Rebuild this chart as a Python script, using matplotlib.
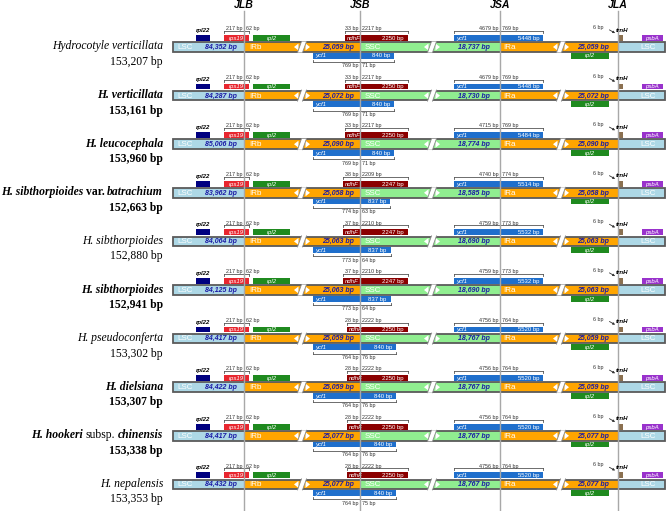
import matplotlib
matplotlib.use("Agg")
import matplotlib.pyplot as plt
from matplotlib.patches import Rectangle, Polygon

# ---------------- data ----------------
name_parts = [
    [("Hydrocotyle verticillata", "i")],
    [("H. verticillata", "bi")],
    [("H. leucocephala", "bi")],
    [("H. sibthorpioides", "bi"), ("var.", "b"), ("batrachium", "bi")],
    [("H. sibthorpioides", "i")],
    [("H. sibthorpioides", "bi")],
    [("H. pseudoconferta", "i")],
    [("H. dielsiana", "bi")],
    [("H. hookeri", "bi"), ("subsp.", "r"), ("chinensis", "bi")],
    [("H. nepalensis", "i")],
]
genome_sizes = ["153,207 bp", "153,161 bp", "153,960 bp", "152,663 bp", "152,880 bp",
                "152,941 bp", "153,302 bp", "153,307 bp", "153,338 bp", "153,353 bp"]
size_bold = [False, True, True, True, False, True, False, True, True, False]

lsc_len = [84352, 84287, 85006, 83962, 84064, 84125, 84417, 84422, 84417, 84432]
irb_len = [25059, 25072, 25090, 25058, 25063, 25063, 25059, 25059, 25077, 25077]
ssc_len = [18737, 18730, 18774, 18585, 18690, 18690, 18767, 18767, 18767, 18767]
ira_len = [25059, 25072, 25090, 25058, 25063, 25063, 25059, 25059, 25077, 25077]

rps19_lsc = [217] * 10
rps19_ir = [62] * 10
ndhf_ir = [33, 33, 33, 38, 37, 37, 28, 28, 28, 28]
ndhf_ssc = [2217, 2217, 2217, 2209, 2210, 2210, 2222, 2222, 2222, 2222]
ndhf_len = [2250, 2250, 2250, 2247, 2247, 2247, 2250, 2250, 2250, 2250]
ycf1b_ir = [769, 769, 769, 774, 773, 773, 764, 764, 764, 764]
ycf1b_ssc = [71, 71, 71, 63, 64, 64, 76, 76, 76, 75]
ycf1b_len = [840, 840, 840, 837, 837, 837, 840, 840, 840, 840]
ycf1a_ssc = [4679, 4679, 4715, 4740, 4759, 4759, 4756, 4756, 4756, 4756]
ycf1a_ir = [769, 769, 769, 774, 773, 773, 764, 764, 764, 764]
ycf1a_len = [5448, 5448, 5484, 5514, 5532, 5532, 5520, 5520, 5520, 5520]
trnh_gap = [6] * 10

junctions = ["JLB", "JSB", "JSA", "JLA"]

# ---------------- layout (pixels) ----------------
W, H = 669, 511
X0, X1 = 173, 665
JX = [244, 360, 500, 618]
BREAKS = [302, 432, 561]
ROW0, ROWSTEP = 47, 48.6
BAR_H = 9.5

C_LSC = "#add8e6"
C_IR = "#ffa500"
C_SSC = "#90ee90"
C_EDGE = "#5a5a5a"
C_BP = "#1a1aa6"
C_DIM = "#555555"
GENE_COL = {"rpl22": "#000080", "rps19": "#e8262f", "rpl2": "#1f8a1f",
            "ndhF": "#8b0000", "ycf1": "#1f6fcc", "trnH": "#8b7050", "psbA": "#9932cc"}

fig = plt.figure(figsize=(W / 100, H / 100), dpi=100)
ax = fig.add_axes([0, 0, 1, 1])
ax.set_xlim(0, W)
ax.set_ylim(H, 0)
ax.axis("off")
renderer = fig.canvas.get_renderer()

SANS = "Liberation Sans"
SERIF = "Liberation Serif"


def box(x0, x1, y0, y1, color, z=3, ec="none"):
    ax.add_patch(Rectangle((x0, y0), x1 - x0, y1 - y0, facecolor=color,
                           edgecolor=ec, lw=0.6, zorder=z))


def gene(x0, x1, y0, y1, name, inner=None):
    box(x0, x1, y0, y1, GENE_COL[name])
    ym = (y0 + y1) / 2
    if inner is None:
        ax.text((x0 + x1) / 2, ym + 0.3, name, color="white", fontsize=4.3,
                style="italic", ha="center", va="center", family=SANS, zorder=4)
    else:
        ax.text(x0 + 2, ym + 0.3, name, color="white", fontsize=4.3,
                style="italic", ha="left", va="center", family=SANS, zorder=4)
        ax.text(x1 - 4, ym + 0.3, inner, color="white", fontsize=4.3,
                ha="right", va="center", family=SANS, zorder=4)


def dim(x0, x1, xm, y, tick, left_txt, right_txt, ty):
    ax.plot([x0, x1], [y, y], color=C_DIM, lw=0.6, zorder=4)
    for xx in (x0, x1):
        ax.plot([xx, xx], [y, y + tick], color=C_DIM, lw=0.6, zorder=4)
    ax.plot([xm, xm], [y - 1.5, y + 1.5], color=C_DIM, lw=0.6, zorder=4)
    ax.text(xm - 1.5, ty, left_txt, fontsize=3.9, ha="right", va="center",
            family=SANS, color="#333333", zorder=4)
    ax.text(xm + 1.5, ty, right_txt, fontsize=3.9, ha="left", va="center",
            family=SANS, color="#333333", zorder=4)


def break_mark(xb, c):
    y0, y1 = c - BAR_H / 2 - 0.8, c + BAR_H / 2 + 0.8
    ax.add_patch(Polygon([(xb - 4.5, y1), (xb - 0.5, y0), (xb + 4.5, y0), (xb + 0.5, y1)],
                         closed=True, facecolor="white", edgecolor="none", zorder=5))
    ax.plot([xb - 4.5, xb - 0.5], [y1, y0], color="#888888", lw=0.6, zorder=6)
    ax.plot([xb + 0.5, xb + 4.5], [y1, y0], color="#888888", lw=0.6, zorder=6)
    ax.add_patch(Polygon([(xb - 8, c), (xb - 3.5, c - 3.5), (xb - 3.5, c + 3.5)],
                         closed=True, facecolor="white", edgecolor="none", zorder=5))
    ax.add_patch(Polygon([(xb + 8, c), (xb + 3.5, c - 3.5), (xb + 3.5, c + 3.5)],
                         closed=True, facecolor="white", edgecolor="none", zorder=5))


def styled(style):
    return dict(fontstyle="italic" if "i" in style else "normal",
                fontweight="bold" if "b" in style else "normal")


NAME_FS = 8.4
for i in range(len(genome_sizes)):
    c = ROW0 + ROWSTEP * i
    top, bot = c - BAR_H / 2, c + BAR_H / 2

    # bar segments
    box(X0, JX[0], top, bot, C_LSC, z=2)
    box(JX[0], JX[1], top, bot, C_IR, z=2)
    box(JX[1], JX[2], top, bot, C_SSC, z=2)
    box(JX[2], JX[3], top, bot, C_IR, z=2)
    box(JX[3], X1, top, bot, C_LSC, z=2)
    ax.add_patch(Rectangle((X0, top), X1 - X0, BAR_H, facecolor="none",
                           edgecolor=C_EDGE, lw=1.3, zorder=3))
    for xb in BREAKS:
        break_mark(xb, c)

    # region labels
    for x, t in [(185, "LSC"), (256, "IRb"), (373, "SSC"), (509, "IRa"), (648, "LSC")]:
        ax.text(x, c + 0.4, t, color="white", fontsize=5.8, ha="center", va="center",
                family=SANS, zorder=4)
    for x, v in [(221, lsc_len[i]), (338, irb_len[i]), (474, ssc_len[i]), (593, ira_len[i])]:
        ax.text(x, c + 0.4, f"{v:,} bp", color=C_BP, fontsize=5.0, ha="center",
                va="center", family=SANS, fontweight="bold", fontstyle="italic", zorder=4)

    ga0, ga1 = c - 12, c - 6.2
    gb0, gb1 = c + 5.8, c + 11.6

    # rpl22
    box(196, 210, ga0, ga1, GENE_COL["rpl22"])
    ax.text(203, c - 16.5, "rpl22", fontsize=4.3, style="italic", fontweight="bold",
            ha="center", va="center", family=SANS, zorder=4)
    # rps19
    r0 = JX[0] - 0.092 * rps19_lsc[i]
    r1 = JX[0] + 0.085 * rps19_ir[i]
    gene(r0, r1, ga0, ga1, "rps19")
    dim(r0, r1, JX[0], c - 16, 2, f"{rps19_lsc[i]} bp", f"{rps19_ir[i]} bp", c - 18.3)
    # rpl2 (IRb)
    gene(253, 290, ga0, ga1, "rpl2")

    # ndhF
    n0 = JX[1] - 0.45 * ndhf_ir[i]
    n1 = 408
    gene(n0, n1, ga0, ga1, "ndhF", f"{ndhf_len[i]} bp")
    dim(n0, n1, JX[1], c - 16, 2, f"{ndhf_ir[i]} bp", f"{ndhf_ssc[i]} bp", c - 18.3)

    # ycf1 at JSB (below)
    y0_ = 313
    y1_ = JX[1] + 0.48 * ycf1b_ssc[i]
    gene(y0_, y1_, gb0, gb1, "ycf1", f"{ycf1b_len[i]} bp")
    dim(y0_, y1_, JX[1], c + 15, -2, f"{ycf1b_ir[i]} bp", f"{ycf1b_ssc[i]} bp", c + 18.8)

    # ycf1 at JSA (above)
    a0, a1 = 454, 543
    gene(a0, a1, ga0, ga1, "ycf1", f"{ycf1a_len[i]} bp")
    dim(a0, a1, JX[2], c - 16, 2, f"{ycf1a_ssc[i]} bp", f"{ycf1a_ir[i]} bp", c - 18.3)

    # rpl2 (IRa, below)
    gene(571, 609, gb0, gb1, "rpl2")

    # trnH
    box(JX[3], JX[3] + 5, ga0, ga1, GENE_COL["trnH"])
    ax.annotate("", xy=(JX[3] - 0.5, c - 12.5), xytext=(607, c - 18.5),
                arrowprops=dict(arrowstyle="-|>", lw=0.6, color="#333333",
                                mutation_scale=3), zorder=4)
    ax.text(616, c - 17, "trnH", fontsize=4.4, style="italic", fontweight="bold",
            ha="left", va="center", family=SANS, zorder=8)
    ax.text(598, c - 19.5, f"{trnh_gap[i]} bp", fontsize=3.9, ha="center",
            va="center", family=SANS, color="#333333", zorder=4)
    # psbA
    gene(642, 663, ga0, ga1, "psbA")

    # species name (right aligned, mixed styles)
    parts = name_parts[i]
    x_right = 163
    space = NAME_FS * 100 / 72 * 0.22
    for txt, st in reversed(parts):
        t = ax.text(x_right, c - 0.5, txt, fontsize=NAME_FS, family=SERIF, ha="right",
                    va="center", **styled(st))
        bb = t.get_window_extent(renderer)
        x_right -= bb.width + space
    ax.text(163, c + 15, genome_sizes[i], fontsize=NAME_FS, family=SERIF, ha="right",
            va="center", fontweight="bold" if size_bold[i] else "normal")

# junction lines and headers
for x, lab in zip(JX, junctions):
    ax.plot([x, x], [11, H], color="#a8a8a8", lw=1.0, zorder=7)
    ax.text(x, 5, lab, fontsize=7.6, fontweight="bold", fontstyle="italic",
            ha="center", va="center", family=SANS)

fig.savefig("out.png", dpi=100)
